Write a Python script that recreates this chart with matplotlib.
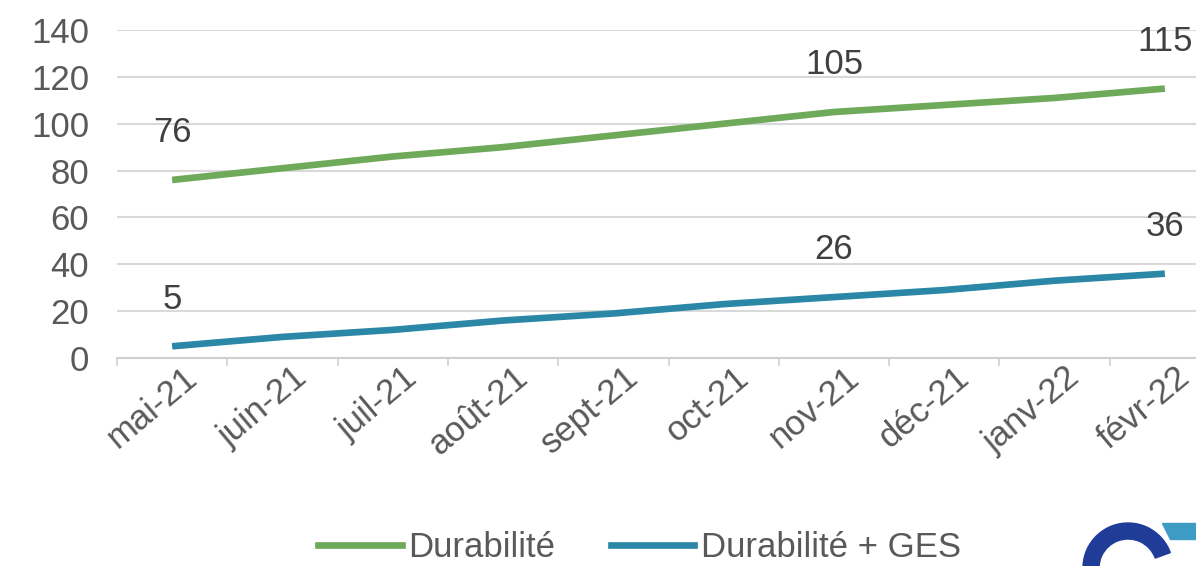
import numpy as np
import matplotlib
matplotlib.use('Agg')
import matplotlib.pyplot as plt
import matplotlib.patches as mpatches
from matplotlib.lines import Line2D
import matplotlib.transforms as mtransforms

plt.rcParams['font.family'] = ['Liberation Sans', 'DejaVu Sans']

months = ['mai-21', 'juin-21', 'juil-21', 'août-21', 'sept-21', 'oct-21',
          'nov-21', 'déc-21', 'janv-22', 'févr-22']
durabilite = [76, 81, 86, 90, 95, 100, 105, 108, 111, 115]
durabilite_ges = [5, 9, 12, 16, 19, 23, 26, 29, 33, 36]
labelled = [0, 6, 9]  # points with data labels
series_names = ['Durabilité', 'Durabilité + GES']

green = '#6fa95a'
blue = '#2a87a6'
grey_txt = '#595959'
fs = 25

fig = plt.figure(figsize=(11.96, 5.66), dpi=100)
ax = fig.add_axes([117 / 1196, 1 - 358 / 566, 1103 / 1196, 328 / 566])

x = np.arange(len(months))
ax.plot(x, durabilite, color=green, lw=4.8, solid_capstyle='butt')
ax.plot(x, durabilite_ges, color=blue, lw=4.8, solid_capstyle='butt')

for vals in (durabilite, durabilite_ges):
    for i in labelled:
        ax.annotate(str(vals[i]), (x[i], vals[i]), xytext=(0, 34),
                    textcoords='offset points', ha='center', va='center',
                    fontsize=fs, color='#404040')

ax.set_xlim(-0.5, len(months) - 0.5)
ax.set_ylim(0, 140)
ax.set_yticks(range(0, 141, 20))
ax.yaxis.grid(True, color='#d9d9d9', lw=1.5)
ax.set_axisbelow(True)
for s in ['top', 'right', 'left']:
    ax.spines[s].set_visible(False)
ax.spines['bottom'].set_color('#d0d0d0')
ax.spines['bottom'].set_linewidth(1.5)
ax.tick_params(axis='y', length=0, pad=20, labelsize=fs, labelcolor=grey_txt)

# category labels at centres, tick marks at boundaries
ax.set_xticks(x)
ax.set_xticklabels(months, rotation=40, ha='right', va='center',
                   rotation_mode='anchor', fontsize=fs, color=grey_txt)
ax.tick_params(axis='x', which='major', length=0, pad=11)
ax.set_xticks(np.arange(-0.5, len(months), 1), minor=True)
ax.tick_params(axis='x', which='minor', length=6, color='#d0d0d0', width=1.2)
offset = mtransforms.ScaledTranslation(21 / 100, 0, fig.dpi_scale_trans)
for lab in ax.get_xticklabels():
    lab.set_transform(lab.get_transform() + offset)

handles = [Line2D([], [], color=green, lw=4.8),
           Line2D([], [], color=blue, lw=4.8)]
fig.legend(handles, series_names, loc='center', bbox_to_anchor=(0.535, 0.032),
           ncol=2, frameon=False, fontsize=fs, handlelength=2.4,
           handletextpad=0.2, columnspacing=1.6, labelcolor=grey_txt,
           borderpad=0.1)

# partial logo in the corner
logo = mpatches.Wedge((11.28, -0.02), 0.45, 20, 200, width=0.16,
                      transform=fig.dpi_scale_trans, color='#1f3c99')
fig.patches.append(logo)
teal = mpatches.Polygon([(11.62, 0.43), (11.96, 0.43), (11.96, 0.27), (11.70, 0.27)],
                        closed=True, transform=fig.dpi_scale_trans, color='#3d9cc4')
fig.patches.append(teal)

fig.savefig('out.png', dpi=100)
